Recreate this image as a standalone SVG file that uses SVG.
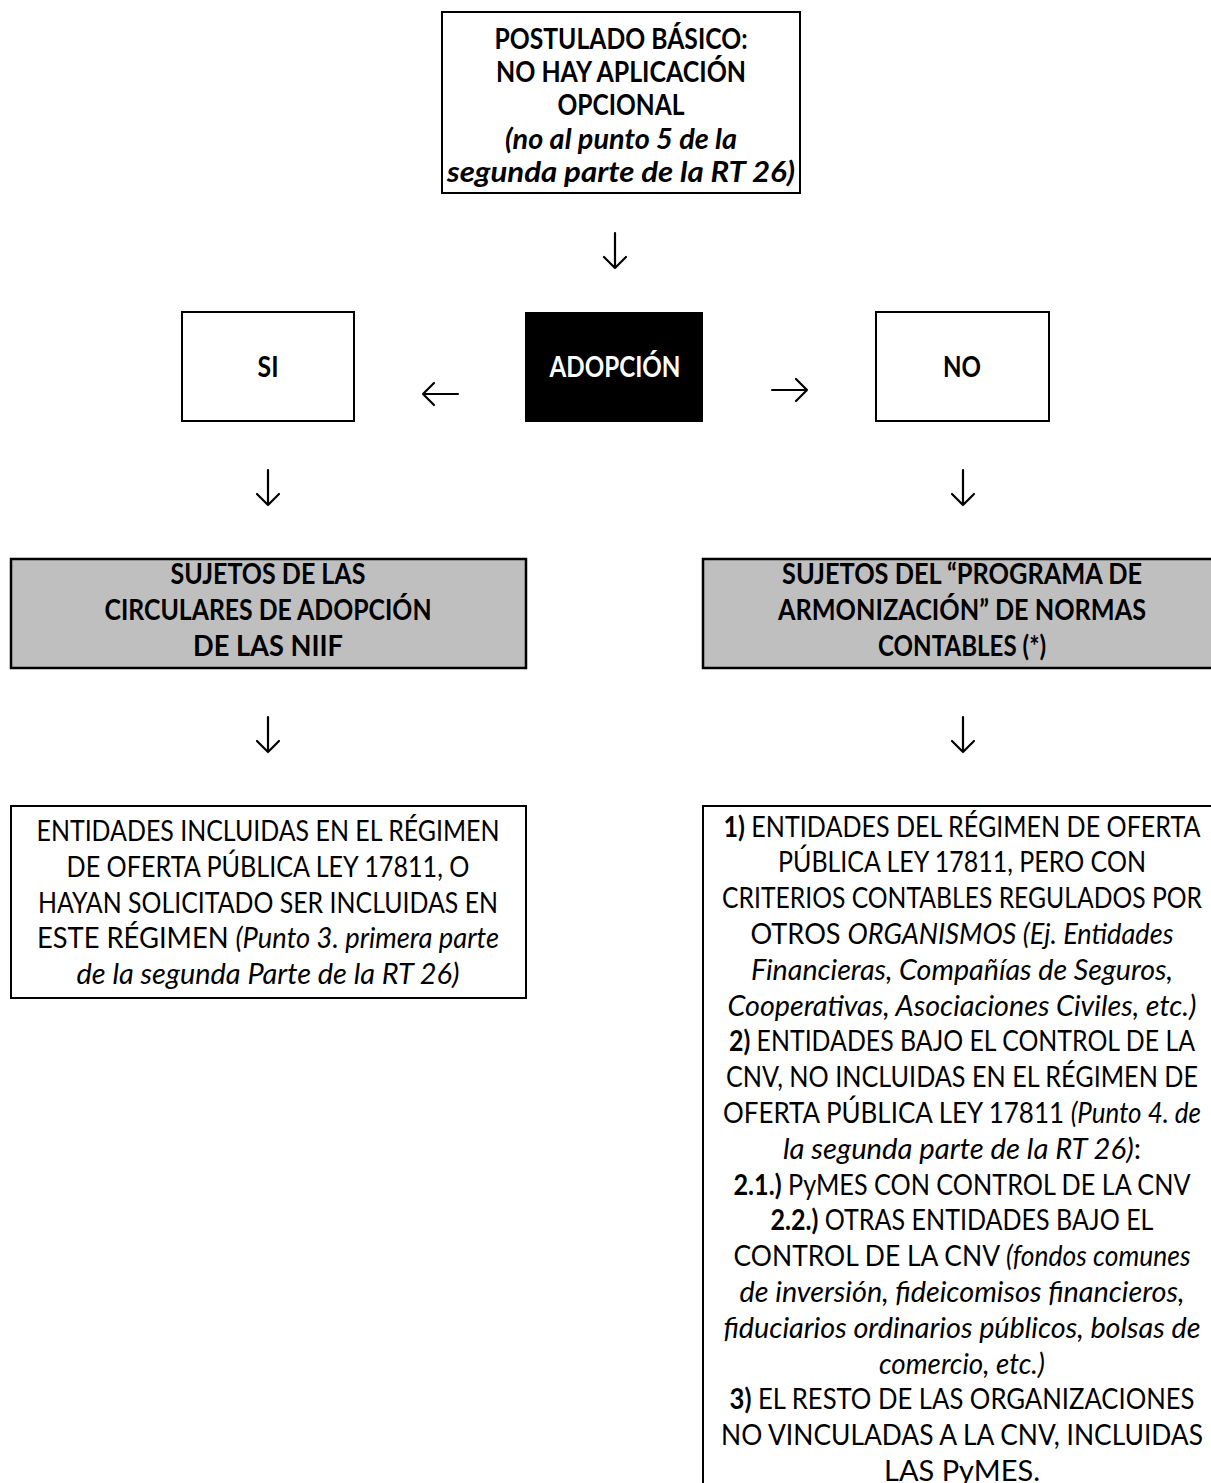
<svg xmlns="http://www.w3.org/2000/svg" width="1211" height="1483" viewBox="0 0 1211 1483">
<defs>
<style>
text{font-family:Lato,"Open Sans","Liberation Sans",sans-serif;font-size:29px;fill:#000;text-anchor:middle}
.b{font-weight:bold}
.i{font-style:italic}
.box{fill:#fff;stroke:#000;stroke-width:2}
.gray{fill:#bfbfbf;stroke:#000;stroke-width:2.5}
.arr{fill:none;stroke:#000;stroke-width:2.2;stroke-linecap:round;stroke-linejoin:round}
.top text{font-size:28px}
</style>
</defs>
<rect width="1211" height="1483" fill="#fff"/>

<g id="postulado" class="top">
<rect class="box" x="442" y="12" width="358" height="181"/>
<text x="621" y="49" class="b" textLength="253" lengthAdjust="spacingAndGlyphs">POSTULADO BÁSICO:</text>
<text x="621" y="82" class="b" textLength="250" lengthAdjust="spacingAndGlyphs">NO HAY APLICACIÓN</text>
<text x="621" y="115" class="b" textLength="127" lengthAdjust="spacingAndGlyphs">OPCIONAL</text>
<text x="621" y="149" class="b i" textLength="232" lengthAdjust="spacingAndGlyphs">(no al punto 5 de la</text>
<text x="621" y="182" class="b i" textLength="348" lengthAdjust="spacingAndGlyphs">segunda parte de la RT 26)</text>
</g>

<g id="si">
<rect class="box" x="182" y="312" width="172" height="109"/>
<text x="268" y="377" class="b" textLength="21" lengthAdjust="spacingAndGlyphs">SI</text>
</g>

<g id="adopcion">
<rect x="525" y="312" width="178" height="110" fill="#000"/>
<text x="615" y="377" class="b" style="fill:#fff" textLength="131" lengthAdjust="spacingAndGlyphs">ADOPCIÓN</text>
</g>

<g id="no">
<rect class="box" x="876" y="312" width="173" height="109"/>
<text x="962" y="377" class="b" textLength="38" lengthAdjust="spacingAndGlyphs">NO</text>
</g>

<g id="sujetos-niif">
<rect class="gray" x="11" y="559" width="515" height="109"/>
<text x="268" y="584" class="b" textLength="195" lengthAdjust="spacingAndGlyphs">SUJETOS DE LAS</text>
<text x="268" y="620" class="b" textLength="327" lengthAdjust="spacingAndGlyphs">CIRCULARES DE ADOPCIÓN</text>
<text x="268" y="656" class="b" textLength="150" lengthAdjust="spacingAndGlyphs">DE LAS NIIF</text>
</g>

<g id="sujetos-armonizacion">
<rect class="gray" x="703" y="559" width="515" height="109"/>
<text x="962" y="584" class="b" textLength="360" lengthAdjust="spacingAndGlyphs">SUJETOS DEL “PROGRAMA DE</text>
<text x="962" y="620" class="b" textLength="368" lengthAdjust="spacingAndGlyphs">ARMONIZACIÓN” DE NORMAS</text>
<text x="962" y="656" class="b" textLength="168" lengthAdjust="spacingAndGlyphs">CONTABLES (*)</text>
</g>

<g id="entidades-niif">
<rect class="box" x="11" y="806" width="515" height="192"/>
<text x="268" y="841" textLength="463" lengthAdjust="spacingAndGlyphs">ENTIDADES INCLUIDAS EN EL RÉGIMEN</text>
<text x="268" y="877" textLength="403" lengthAdjust="spacingAndGlyphs">DE OFERTA PÚBLICA LEY 17811, O</text>
<text x="268" y="913" textLength="460" lengthAdjust="spacingAndGlyphs">HAYAN SOLICITADO SER INCLUIDAS EN</text>
<text x="268" y="948" textLength="462" lengthAdjust="spacingAndGlyphs">ESTE RÉGIMEN <tspan class="i">(Punto 3. primera parte</tspan></text>
<text x="268" y="984" class="i" textLength="383" lengthAdjust="spacingAndGlyphs">de la segunda Parte de la RT 26)</text>
</g>

<g id="entidades-armonizacion">
<rect class="box" x="703" y="806" width="520" height="700"/>
<text x="962" y="836.5" textLength="477" lengthAdjust="spacingAndGlyphs"><tspan class="b">1)</tspan> ENTIDADES DEL RÉGIMEN DE OFERTA</text>
<text x="962" y="872.3" textLength="368" lengthAdjust="spacingAndGlyphs">PÚBLICA LEY 17811, PERO CON</text>
<text x="962" y="908.1" textLength="480" lengthAdjust="spacingAndGlyphs">CRITERIOS CONTABLES REGULADOS POR</text>
<text x="962" y="943.9" textLength="423" lengthAdjust="spacingAndGlyphs">OTROS <tspan class="i">ORGANISMOS (Ej. Entidades</tspan></text>
<text x="962" y="979.7" class="i" textLength="422" lengthAdjust="spacingAndGlyphs">Financieras, Compañías de Seguros,</text>
<text x="962" y="1015.5" class="i" textLength="469" lengthAdjust="spacingAndGlyphs">Cooperativas, Asociaciones Civiles, etc.)</text>
<text x="962" y="1051.3" textLength="466" lengthAdjust="spacingAndGlyphs"><tspan class="b">2)</tspan> ENTIDADES BAJO EL CONTROL DE LA</text>
<text x="962" y="1087.1" textLength="472" lengthAdjust="spacingAndGlyphs">CNV, NO INCLUIDAS EN EL RÉGIMEN DE</text>
<text x="962" y="1122.9" textLength="478" lengthAdjust="spacingAndGlyphs">OFERTA PÚBLICA LEY 17811 <tspan class="i">(Punto 4. de</tspan></text>
<text x="962" y="1158.7" textLength="358" lengthAdjust="spacingAndGlyphs"><tspan class="i">la segunda parte de la RT 26)</tspan>:</text>
<text x="962" y="1194.5" textLength="457" lengthAdjust="spacingAndGlyphs"><tspan class="b">2.1.)</tspan> PyMES CON CONTROL DE LA CNV</text>
<text x="962" y="1230.3" textLength="383" lengthAdjust="spacingAndGlyphs"><tspan class="b">2.2.)</tspan> OTRAS ENTIDADES BAJO EL</text>
<text x="962" y="1266.1" textLength="457" lengthAdjust="spacingAndGlyphs">CONTROL DE LA CNV <tspan class="i">(fondos comunes</tspan></text>
<text x="962" y="1301.9" class="i" textLength="445" lengthAdjust="spacingAndGlyphs">de inversión, fideicomisos financieros,</text>
<text x="962" y="1337.7" class="i" textLength="477" lengthAdjust="spacingAndGlyphs">fiduciarios ordinarios públicos, bolsas de</text>
<text x="962" y="1373.5" class="i" textLength="166" lengthAdjust="spacingAndGlyphs">comercio, etc.)</text>
<text x="962" y="1409.3" textLength="465" lengthAdjust="spacingAndGlyphs"><tspan class="b">3)</tspan> EL RESTO DE LAS ORGANIZACIONES</text>
<text x="962" y="1445.1" textLength="482" lengthAdjust="spacingAndGlyphs">NO VINCULADAS A LA CNV, INCLUIDAS</text>
<text x="962" y="1480.9">LAS PyMES.</text>
</g>

<g id="connectors" class="arr">
<path d="M615 233 V268 M604 257 L615 268 L626 257"/>
<path d="M458 394 H423 M434 383 L423 394 L434 405"/>
<path d="M772 390 H807 M796 379 L807 390 L796 401"/>
<path d="M268 470 V505 M257 494 L268 505 L279 494"/>
<path d="M963 470 V505 M952 494 L963 505 L974 494"/>
<path d="M268 717 V752 M257 741 L268 752 L279 741"/>
<path d="M963 717 V752 M952 741 L963 752 L974 741"/>
</g>
</svg>
